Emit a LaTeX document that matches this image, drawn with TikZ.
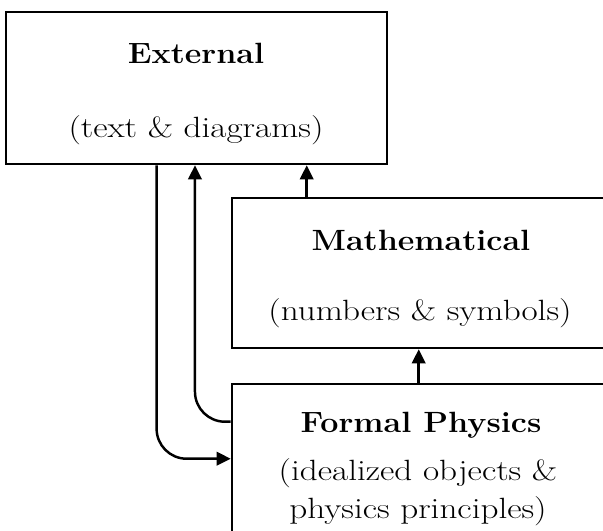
\documentclass[tikz,border=0pt]{standalone}
\usepackage{graphicx}
\usetikzlibrary{arrows.meta,calc}

\newcommand{\wtext}[2][1.2]{\scalebox{#1}[1]{#2}}

\begin{document}
\begin{tikzpicture}[x=0.03cm,y=-0.03cm,
    level/.style={draw,line width=2.2pt,rectangle,inner sep=0pt},
    title/.style={font=\fontsize{25}{30}\selectfont\bfseries,anchor=base,inner sep=0pt},
    note/.style={font=\fontsize{25}{30}\selectfont,anchor=base,inner sep=0pt},
    link/.style={line width=2.1pt,-{Triangle[length=12pt,width=11.5pt]}}]
\useasboundingbox (0,0) rectangle (603,531);
\clip (0,0) rectangle (603,531);
% boxes
\node[level,minimum width=11.43cm,minimum height=4.56cm] (ext) at (196.5,88) {};
\node[level,minimum width=11.64cm,minimum height=4.5cm] (math) at (426,273) {};
\node[level,minimum width=11.64cm,minimum height=5.28cm] (phys) at (426,472) {};
% labels
\node[title] (exttitle) at (196,63) {\wtext[1.1]{External}};
\node[note] (extnote) at (196,137) {\wtext{(text \& diagrams)}};
\node[title] (mathtitle) at (421,250) {\wtext[1.1]{Mathematical}};
\node[note] (mathnote) at (420,320) {\wtext{(numbers \& symbols)}};
\node[title] (phystitle) at (421,432) {\wtext[1.1]{Formal Physics}};
\node[note] (physnote) at (418,480) {\wtext{(idealized objects \&}};
\node[note] (physnotetwo) at (418,518) {\wtext{physics principles)}};
% connectors
\draw[link] ([xshift=2.28cm]math.north west) coordinate (m1) -- (m1 |- ext.south);
\draw[link] ([xshift=5.64cm]phys.north west) coordinate (p1) -- (p1 |- math.south);
\draw[link,rounded corners=0.9cm] ($(ext.south west)!0.396!(ext.south east)$) |- ([yshift=-2.28cm]phys.north west);
\draw[link,rounded corners=0.9cm] ([yshift=-1.17cm]phys.north west) -| ($(ext.south west)!0.496!(ext.south east)$);
\end{tikzpicture}
\end{document}
